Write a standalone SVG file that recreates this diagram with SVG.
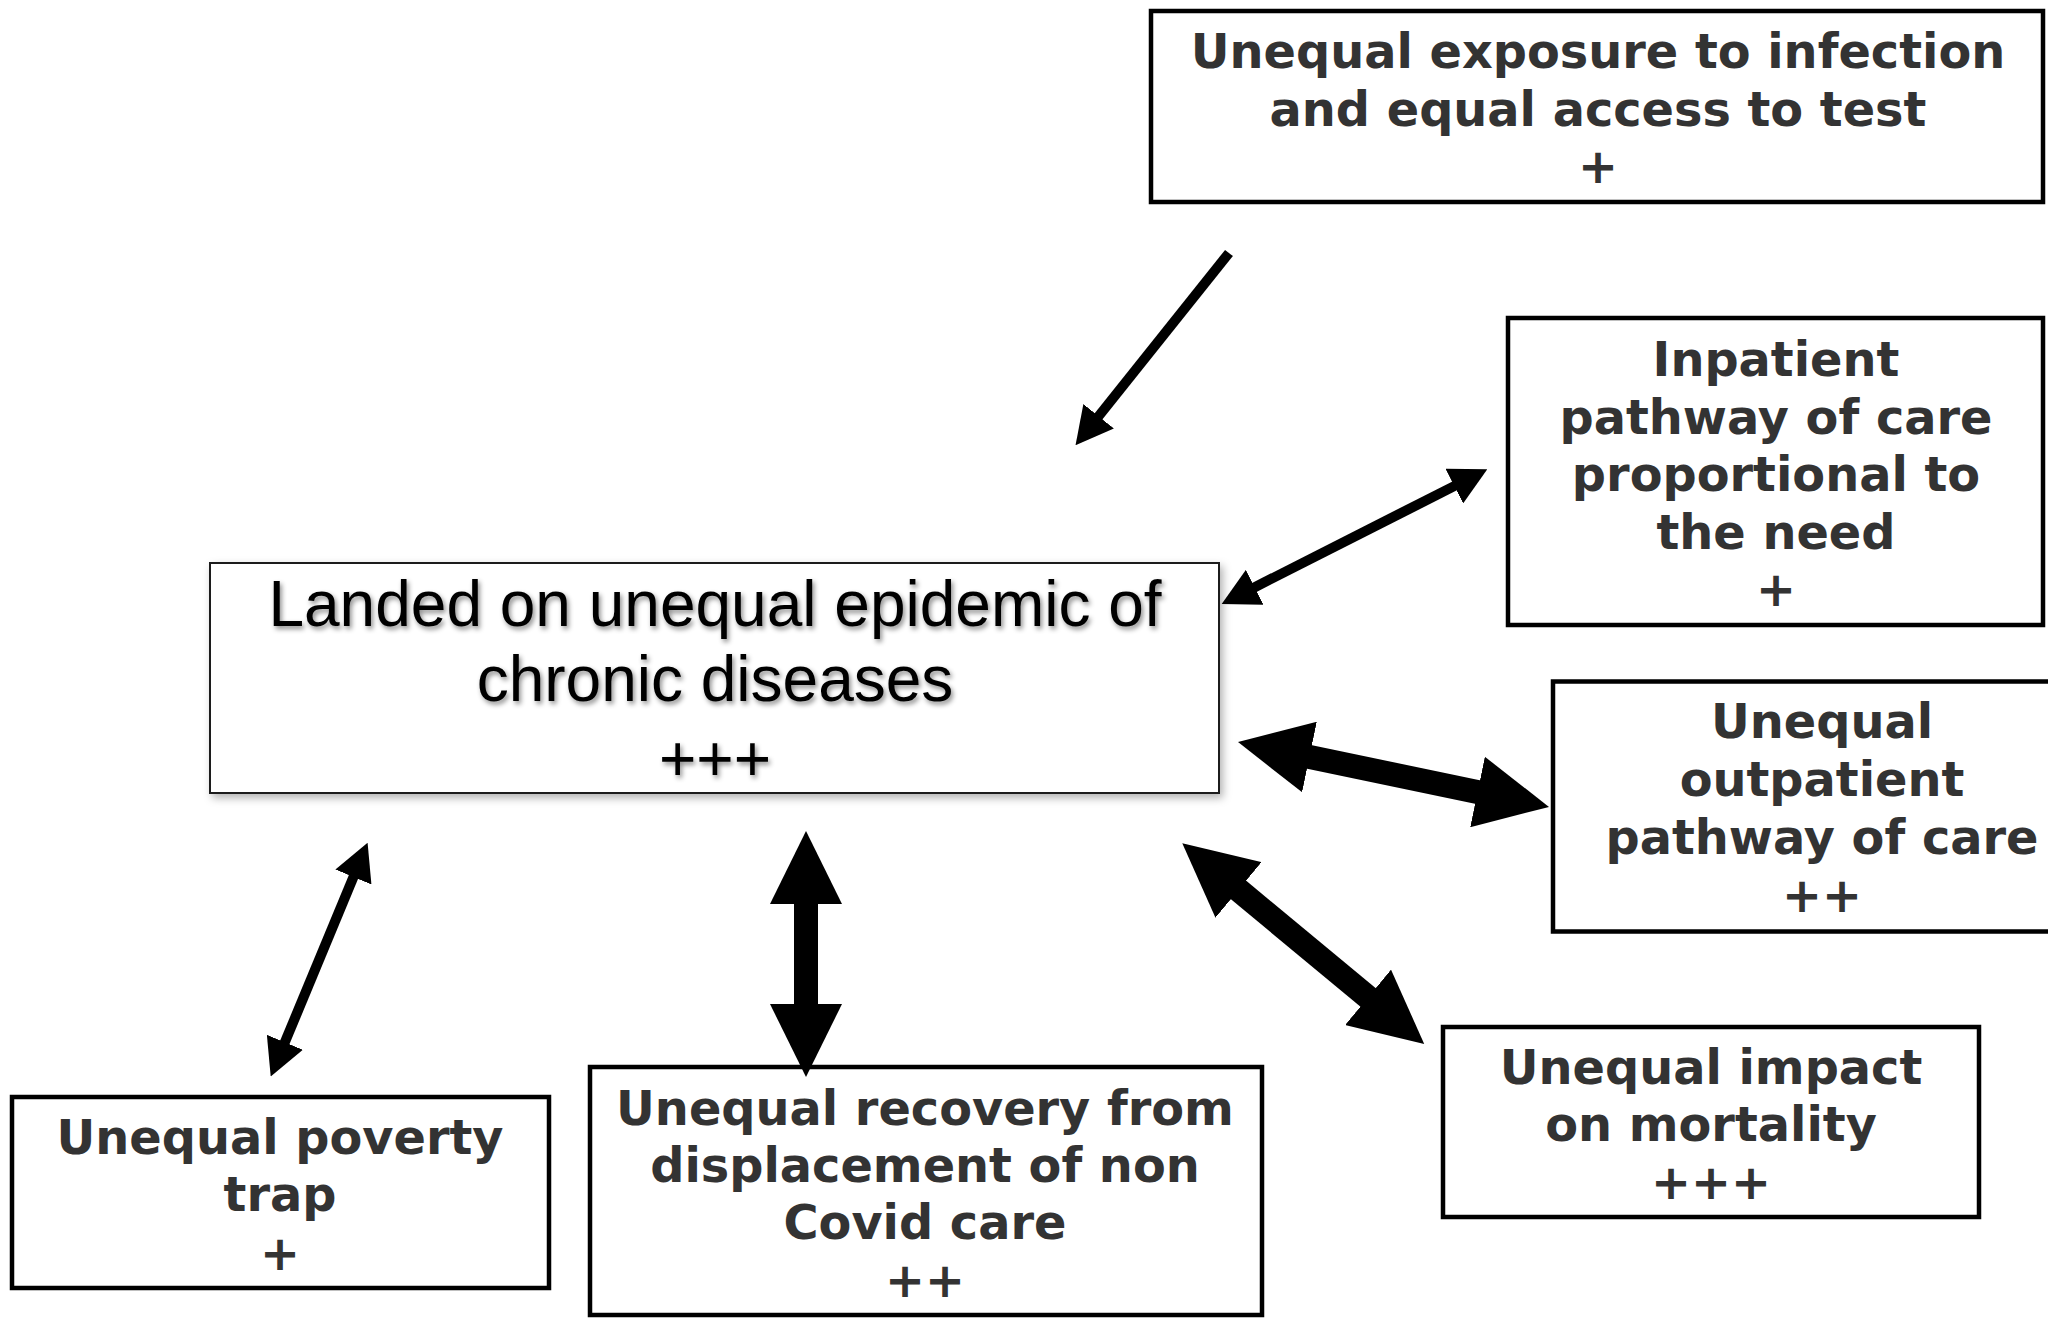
<svg xmlns="http://www.w3.org/2000/svg" width="2048" height="1318" viewBox="0 0 2048 1318">
  <style>
    .box { fill: #ffffff; stroke: #000000; stroke-width: 4.5; }
    .lbl { font-family: "DejaVu Sans", Verdana, sans-serif; font-weight: bold; font-size: 47.8px; fill: #333333; text-anchor: middle; }
    .core-box { fill: #ffffff; stroke: #1a1a1a; stroke-width: 2; }
    .core-lbl { font-family: "Liberation Sans", Arial, sans-serif; font-size: 64px; fill: #000000; text-anchor: middle; }
    .thin { stroke: #000000; stroke-width: 10; fill: none; }
    .thick { stroke: #000000; stroke-width: 24; fill: none; }
  </style>
  <defs>
    <!-- arrowheads sit on the end of the shaft, base at the line end -->
    <marker id="head-s" markerUnits="userSpaceOnUse" viewBox="0 0 37 39" refX="1" refY="19.5" markerWidth="37" markerHeight="39" orient="auto-start-reverse">
      <path d="M0,0 L37,19.5 L0,39 Z" fill="#000000"/>
    </marker>
    <marker id="head-l" markerUnits="userSpaceOnUse" viewBox="0 0 73 72" refX="1" refY="36" markerWidth="73" markerHeight="72" orient="auto-start-reverse">
      <path d="M0,0 L73,36 L0,72 Z" fill="#000000"/>
    </marker>
    <filter id="box-shadow" x="-5%" y="-10%" width="110%" height="125%">
      <feDropShadow dx="3" dy="4" stdDeviation="4" flood-color="#000000" flood-opacity="0.3"/>
    </filter>
    <filter id="text-shadow" x="-5%" y="-20%" width="110%" height="150%">
      <feDropShadow dx="2" dy="3" stdDeviation="2.5" flood-color="#000000" flood-opacity="0.45"/>
    </filter>
  </defs>

  <rect width="2048" height="1318" fill="#ffffff"/>

  <!-- central node -->
  <g id="node-chronic">
    <rect class="core-box" x="210" y="563" width="1009" height="230" filter="url(#box-shadow)"/>
    <g filter="url(#text-shadow)">
      <text class="core-lbl" x="715" y="626">Landed on unequal epidemic of</text>
      <text class="core-lbl" x="715" y="701">chronic diseases</text>
      <text class="core-lbl" x="715" y="781">+++</text>
    </g>
  </g>

  <g id="node-exposure">
    <rect class="box" x="1151" y="11" width="892" height="191"/>
    <text class="lbl" x="1598" y="68">Unequal exposure to infection</text>
    <text class="lbl" x="1598" y="125.5">and equal access to test</text>
    <text class="lbl" x="1598" y="183">+</text>
  </g>

  <g id="node-inpatient">
    <rect class="box" x="1508" y="318" width="535" height="307"/>
    <text class="lbl" x="1776" y="376">Inpatient</text>
    <text class="lbl" x="1776" y="433.5">pathway of care</text>
    <text class="lbl" x="1776" y="491">proportional to</text>
    <text class="lbl" x="1776" y="548.5">the need</text>
    <text class="lbl" x="1776" y="606">+</text>
  </g>

  <g id="node-outpatient">
    <rect class="box" x="1553" y="681.5" width="540" height="250"/>
    <text class="lbl" x="1822" y="738">Unequal</text>
    <text class="lbl" x="1822" y="796">outpatient</text>
    <text class="lbl" x="1822" y="854">pathway of care</text>
    <text class="lbl" x="1822" y="912">++</text>
  </g>

  <g id="node-mortality">
    <rect class="box" x="1443" y="1027" width="536" height="190"/>
    <text class="lbl" x="1711" y="1084">Unequal impact</text>
    <text class="lbl" x="1711" y="1141">on mortality</text>
    <text class="lbl" x="1711" y="1199">+++</text>
  </g>

  <g id="node-poverty">
    <rect class="box" x="12" y="1097" width="537" height="191"/>
    <text class="lbl" x="280" y="1154">Unequal poverty</text>
    <text class="lbl" x="280" y="1211">trap</text>
    <text class="lbl" x="280" y="1270">+</text>
  </g>

  <g id="node-recovery">
    <rect class="box" x="590" y="1067" width="672" height="248"/>
    <text class="lbl" x="925" y="1125">Unequal recovery from</text>
    <text class="lbl" x="925" y="1182">displacement of non</text>
    <text class="lbl" x="925" y="1239">Covid care</text>
    <text class="lbl" x="925" y="1297">++</text>
  </g>

  <!-- connectors -->
  <g id="connectors">
    <line class="thin" x1="1229" y1="253" x2="1098" y2="417" marker-end="url(#head-s)"/>
    <line class="thin" x1="1253.8" y1="587.7" x2="1455.2" y2="485.6" marker-start="url(#head-s)" marker-end="url(#head-s)"/>
    <line class="thick" x1="1308.5" y1="756.8" x2="1478.5" y2="792.2" marker-start="url(#head-l)" marker-end="url(#head-l)"/>
    <line class="thick" x1="1237.7" y1="889.3" x2="1368.8" y2="998" marker-start="url(#head-l)" marker-end="url(#head-l)"/>
    <line class="thick" x1="806" y1="903" x2="806" y2="1005" marker-start="url(#head-l)" marker-end="url(#head-l)"/>
    <line class="thin" x1="353.8" y1="876.1" x2="284.5" y2="1043.2" marker-start="url(#head-s)" marker-end="url(#head-s)"/>
  </g>
</svg>
